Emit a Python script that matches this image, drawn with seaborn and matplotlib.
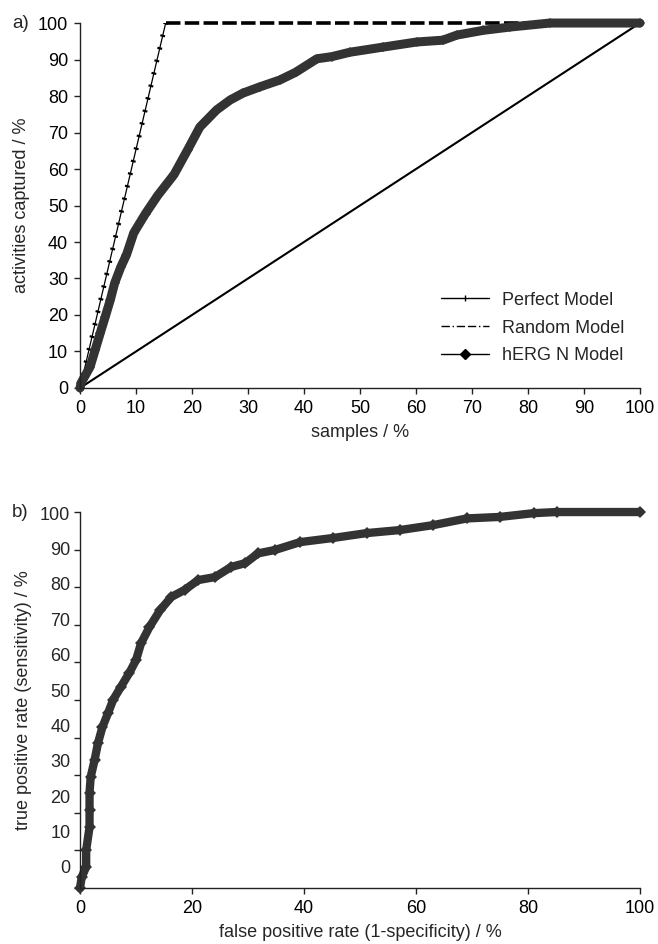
import matplotlib
matplotlib.use('Agg')
import matplotlib.pyplot as plt
import seaborn as sns
import numpy as np
import pandas as pd
from matplotlib.lines import Line2D

# a) cumulative gain chart
perfect_x = [0, 15.3, 100]
perfect_y = [0, 100, 100]
random_x = [0, 100]
random_y = [0, 100]
herg_x = [0, 0.2, 1.8, 2.7, 3.6, 4.5, 5.4, 6.2, 7.3, 8.3, 9.6, 11.7, 13.9, 16.8, 19.2, 21.4,
          24.4, 26.8, 29.1, 32.1, 35.7, 38.5, 42.3, 45.0, 48.2, 54.1, 60.1, 64.8, 67.3, 72.0,
          76.8, 83.9, 100]
herg_y = [0, 1.4, 5.8, 10.4, 15.0, 19.5, 24.1, 28.8, 33.2, 36.5, 42.5, 47.8, 52.8, 58.5, 65.2, 71.5,
          76.2, 78.9, 80.8, 82.5, 84.4, 86.5, 90.2, 90.8, 92.0, 93.4, 94.8, 95.3, 96.7, 98.0,
          98.9, 100, 100]

# b) ROC curve
roc_x = [0, 0.3, 1.1, 1.1, 1.7, 1.7, 1.7, 1.9, 2.6, 3.2, 4.0, 5.0, 5.9, 7.3, 8.8, 10.0, 10.9,
         12.4, 14.3, 16.3, 18.7, 21.1, 24.1, 27.0, 29.5, 31.8, 34.8, 39.3, 45.2, 51.2, 57.1,
         63.0, 69.1, 75.0, 81.0, 85.1, 100]
roc_y = [0, 2.9, 5.6, 10.1, 16.2, 20.7, 25.3, 29.5, 34.0, 38.5, 42.8, 46.5, 50.0, 53.5, 57.2,
         60.6, 65.1, 69.4, 73.9, 77.4, 79.3, 81.9, 82.7, 85.4, 86.4, 89.0, 89.9, 92.0, 93.1,
         94.4, 95.2, 96.5, 98.3, 98.7, 99.7, 100, 100]

a_xticks = list(range(0, 101, 10))
a_yticks = list(range(0, 101, 10))
b_xticks = list(range(0, 101, 20))
b_yticks = list(range(0, 101, 10))

sns.set_style("ticks")
plt.rcParams['font.family'] = ['Liberation Sans', 'DejaVu Sans']
plt.rcParams['font.size'] = 13

fig = plt.figure(figsize=(6.58, 9.44), dpi=100)
ax1 = fig.add_axes([0.1216, 0.589, 0.851, 0.3866])
ax2 = fig.add_axes([0.1216, 0.0593, 0.851, 0.3983])

dark = '#333333'

# --- panel a
sns.lineplot(x=random_x, y=random_y, ax=ax1, color='black', lw=1.5, sort=False, estimator=None)
sns.lineplot(x=perfect_x[:2], y=perfect_y[:2], ax=ax1, color='black', lw=0.9, sort=False, estimator=None)
# cross-ticks along the rising part of the perfect curve
ax1.plot(perfect_x[:2], perfect_y[:2], color='black', lw=3.5,
         linestyle=(0, (0.45, 2.2)), dash_capstyle='butt')
ax1.plot(perfect_x[1:], perfect_y[1:], color='black', lw=2.6,
         linestyle=(0, (4, 1.2)), dash_capstyle='butt', clip_on=False)
sns.lineplot(x=herg_x, y=herg_y, ax=ax1, color=dark, lw=6.5, marker='D', markersize=5,
             markeredgewidth=0, sort=False, estimator=None, clip_on=False)

ax1.set_xlim(0, 100)
ax1.set_ylim(0, 100)
ax1.set_xticks(a_xticks)
ax1.set_yticks(a_yticks)
ax1.set_xlabel('samples / %', labelpad=5)
ax1.set_ylabel('activities captured / %', labelpad=6)

handles = [
    Line2D([0], [0], color='black', lw=1, marker='|', markersize=4),
    Line2D([0], [0], color='black', lw=1, linestyle=(0, (6, 2, 1, 2, 6, 2))),
    Line2D([0], [0], color='black', lw=1, marker='D', markersize=5),
]
ax1.legend(handles, ['Perfect Model', 'Random Model', 'hERG N Model'], frameon=False,
           loc='lower left', bbox_to_anchor=(0.615, 0.02), handlelength=2.7,
           labelspacing=0.6, handletextpad=0.7)

# --- panel b
sns.lineplot(x=roc_x, y=roc_y, ax=ax2, color=dark, lw=6, marker='D', markersize=6.5,
             markeredgewidth=0, sort=False, estimator=None, clip_on=False)
ax2.set_xlim(0, 100)
ax2.set_ylim(0, 100)
ax2.set_xticks(b_xticks)
# tick marks and labels do not line up in the original figure
ax2.set_yticks(b_yticks)
ax2.set_yticklabels([])
label_pos = [5.6 + 0.941 * v for v in b_yticks]
ax2.set_yticks(label_pos, [str(v) for v in b_yticks], minor=True)
ax2.tick_params(axis='y', which='minor', length=0, pad=7)
ax2.set_xlabel('false positive rate (1-specificity) / %', labelpad=5)
ax2.set_ylabel('true positive rate (sensitivity) / %', labelpad=6)

for ax in (ax1, ax2):
    sns.despine(ax=ax)
    ax.tick_params(axis='both', which='major', length=4.5, width=1, colors='#222222',
                   labelcolor='black', pad=4)
    for s in ('left', 'bottom'):
        ax.spines[s].set_color('#222222')
        ax.spines[s].set_linewidth(1)

fig.text(0.018, 0.9756, 'a)', ha='left', va='center', fontsize=13.5)
fig.text(0.018, 0.4576, 'b)', ha='left', va='center', fontsize=13.5)

plt.savefig('out.png', dpi=100)
